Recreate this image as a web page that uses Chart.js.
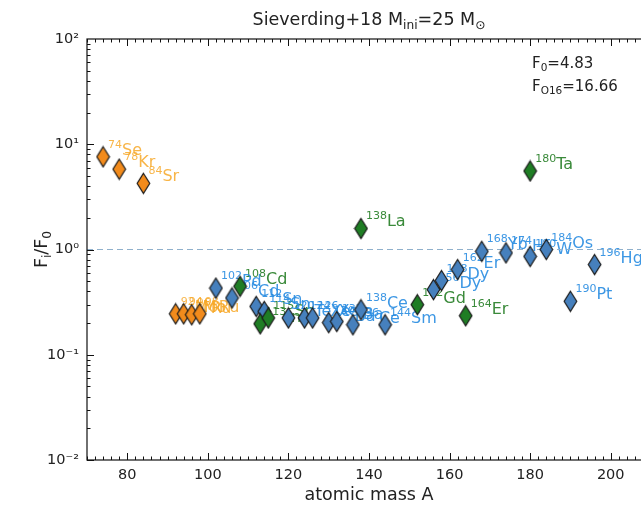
<!DOCTYPE html>
<html>
<head>
<meta charset="utf-8">
<script src="https://cdn.jsdelivr.net/npm/chart.js@4.4.1/dist/chart.umd.min.js"></script>
<style>
html, body { margin: 0; padding: 0; overflow: hidden; background: #fff; }
#wrap { width: 660px; height: 506px; }
</style>
</head>
<body>
<div id="wrap"><canvas id="chart" width="660" height="506"></canvas></div>
<script>
// isotopes and F_i/F_0
const orangeIso = ['74Se', '78Kr', '84Sr', '92Mo', '94Mo', '96Ru', '98Ru'];
const orangeVal = [7.6, 5.8, 4.25, 0.245, 0.245, 0.24, 0.245];

const blueIso = ['102Pd', '106Cd', '112Sn', '114Sn', '120Te', '124Xe', '126Xe', '130Ba', '132Ba',
                 '136Ce', '138Ce', '144Sm', '156Dy', '158Dy', '162Er', '168Yb', '174Hf', '180W',
                 '184Os', '190Pt', '196Hg'];
const blueVal = [0.43, 0.347, 0.288, 0.258, 0.224, 0.224, 0.224, 0.202, 0.207,
                 0.193, 0.268, 0.193, 0.416, 0.507, 0.645, 0.96, 0.93, 0.86,
                 1.0, 0.322, 0.72];

const greenIso = ['108Cd', '113In', '115Sn', '138La', '152Gd', '164Er', '180Ta'];
const greenVal = [0.447, 0.197, 0.224, 1.585, 0.299, 0.235, 5.57];

const xTickLabels = [80, 100, 120, 140, 160, 180, 200];
const yDecades = [0.01, 0.1, 1, 10, 100];
const refLine = [1, 1];

const F0 = '4.83';
const FO16 = '16.66';

const FONT = '"DejaVu Sans", sans-serif';
const supDigits = {'-': '\u207B', '0': '\u2070', '1': '\u00B9', '2': '\u00B2'};

function massOf(iso) { return parseInt(iso, 10); }
function toPoints(isos, vals) {
    return isos.map((iso, i) => ({x: massOf(iso), y: vals[i]}));
}

// thin diamond marker (matplotlib 'd')
function diamond(fill) {
    const c = document.createElement('canvas');
    c.width = 15; c.height = 23;
    const g = c.getContext('2d');
    g.beginPath();
    g.moveTo(7.5, 1.5); g.lineTo(13.8, 11.5); g.lineTo(7.5, 21.5); g.lineTo(1.2, 11.5);
    g.closePath();
    g.fillStyle = fill; g.fill();
    g.lineWidth = 1.2; g.strokeStyle = '#1a1a1a'; g.stroke();
    return c;
}

// text with sub/superscripts: parts = [[text, 'sub'|'sup'|null], ...]
function richWidth(ctx, parts, size) {
    let w = 0;
    parts.forEach(([t, k]) => {
        ctx.font = (k ? size * 0.7 : size) + 'px ' + FONT;
        w += ctx.measureText(t).width;
    });
    return w;
}
function drawRich(ctx, parts, x, y, size, align) {
    let cx = align === 'center' ? x - richWidth(ctx, parts, size) / 2 : x;
    ctx.textAlign = 'left';
    ctx.textBaseline = 'alphabetic';
    parts.forEach(([t, k]) => {
        ctx.font = (k ? size * 0.7 : size) + 'px ' + FONT;
        let dy = 0;
        if (k === 'sub') dy = size * 0.22;
        if (k === 'sup') dy = -size * 0.42;
        ctx.fillText(t, cx, y + dy);
        cx += ctx.measureText(t).width;
    });
}

const isoLabels = {
    id: 'isoLabels',
    beforeDatasetsDraw(chart) {
        const ctx = chart.ctx;
        ctx.save();
        chart.data.datasets.forEach((ds, i) => {
            if (!ds.isos) return;
            const meta = chart.getDatasetMeta(i);
            ctx.fillStyle = ds.labelColor;
            meta.data.forEach((pt, j) => {
                const m = ds.isos[j].match(/^(\d+)(\D+)$/);
                ctx.font = '11px ' + FONT;
                ctx.textAlign = 'left';
                ctx.textBaseline = 'alphabetic';
                ctx.fillText(m[1], pt.x + 5, pt.y - 9);
                const w = ctx.measureText(m[1]).width;
                ctx.font = '16px ' + FONT;
                ctx.fillText(m[2], pt.x + 5 + w, pt.y - 2);
            });
        });
        ctx.restore();
    }
};

const frameAndText = {
    id: 'frameAndText',
    afterDraw(chart) {
        const ctx = chart.ctx;
        const a = chart.chartArea;
        const xs = chart.scales.x, ys = chart.scales.y;
        ctx.save();
        ctx.strokeStyle = '#111';
        ctx.lineWidth = 1.2;
        ctx.strokeRect(a.left, a.top, a.right - a.left, a.bottom - a.top);

        // inward ticks
        ctx.lineWidth = 1;
        ctx.beginPath();
        for (let v = 70; v <= 210; v += 2) {
            const px = Math.round(xs.getPixelForValue(v)) + 0.5;
            const len = v % 20 === 0 ? 7 : 3.5;
            ctx.moveTo(px, a.bottom); ctx.lineTo(px, a.bottom - len);
            ctx.moveTo(px, a.top); ctx.lineTo(px, a.top + len);
        }
        for (let d = -2; d < 2; d++) {
            for (let k = 1; k <= 9; k++) {
                const py = Math.round(ys.getPixelForValue(k * Math.pow(10, d))) + 0.5;
                const len = k === 1 ? 7 : 3.5;
                ctx.moveTo(a.left, py); ctx.lineTo(a.left + len, py);
                ctx.moveTo(a.right, py); ctx.lineTo(a.right - len, py);
            }
        }
        ctx.stroke();

        ctx.fillStyle = '#222';
        drawRich(ctx, [['Sieverding+18 M', null], ['ini', 'sub'], ['=25 M', null], ['\u2299', 'sub']],
                 (a.left + a.right) / 2, 25, 17.5, 'center');
        drawRich(ctx, [['atomic mass A', null]], (a.left + a.right) / 2, 500, 17.5, 'center');
        drawRich(ctx, [['F', null], ['0', 'sub'], ['=' + F0, null]], 532, 68, 15, 'left');
        drawRich(ctx, [['F', null], ['O16', 'sub'], ['=' + FO16, null]], 532, 91, 15, 'left');

        ctx.translate(47, (a.top + a.bottom) / 2);
        ctx.rotate(-Math.PI / 2);
        drawRich(ctx, [['F', null], ['i', 'sub'], ['/F', null], ['0', 'sub']], 0, 0, 17.5, 'center');
        ctx.restore();
    }
};

function supLabel(v) {
    const e = Math.round(Math.log10(v));
    return '10' + String(e).split('').map(c => supDigits[c]).join('');
}

new Chart(document.getElementById('chart'), {
    type: 'scatter',
    data: {
        datasets: [
            {
                isos: greenIso, labelColor: '#3a8a3a',
                data: toPoints(greenIso, greenVal),
                pointStyle: diamond('#1f7d24'), pointRadius: 8
            },
            {
                isos: blueIso, labelColor: 'rgba(40,140,225,0.9)',
                data: toPoints(blueIso, blueVal),
                pointStyle: diamond('#4680bd'), pointRadius: 8
            },
            {
                isos: orangeIso, labelColor: 'rgba(247,168,40,0.85)',
                data: toPoints(orangeIso, orangeVal),
                pointStyle: diamond('#f28b1c'), pointRadius: 8
            },
            {
                type: 'line',
                data: [{x: 70, y: refLine[0]}, {x: 210, y: refLine[1]}],
                borderColor: '#8fb0cc', borderWidth: 1, borderDash: [6, 4],
                pointRadius: 0
            }
        ]
    },
    options: {
        responsive: false,
        animation: false,
        events: [],
        layout: {padding: {left: 0, right: 6, top: 39, bottom: 0}},
        plugins: {legend: {display: false}, title: {display: false}, tooltip: {enabled: false}},
        scales: {
            x: {
                type: 'linear', min: 70, max: 210,
                afterBuildTicks: s => { s.ticks = xTickLabels.map(v => ({value: v})); },
                afterFit: s => { s.height = 46; },
                grid: {display: false, drawTicks: false},
                border: {display: false},
                ticks: {color: '#222', padding: 7, font: {family: FONT, size: 14.5}, maxRotation: 0}
            },
            y: {
                type: 'logarithmic', min: 0.01, max: 100,
                afterBuildTicks: s => { s.ticks = yDecades.map(v => ({value: v})); },
                afterFit: s => { s.width = 87; },
                grid: {display: false, drawTicks: false},
                border: {display: false},
                ticks: {
                    color: '#222', padding: 8, font: {family: FONT, size: 14.5},
                    callback: v => supLabel(v)
                }
            }
        }
    },
    plugins: [isoLabels, frameAndText]
});
</script>
</body>
</html>
